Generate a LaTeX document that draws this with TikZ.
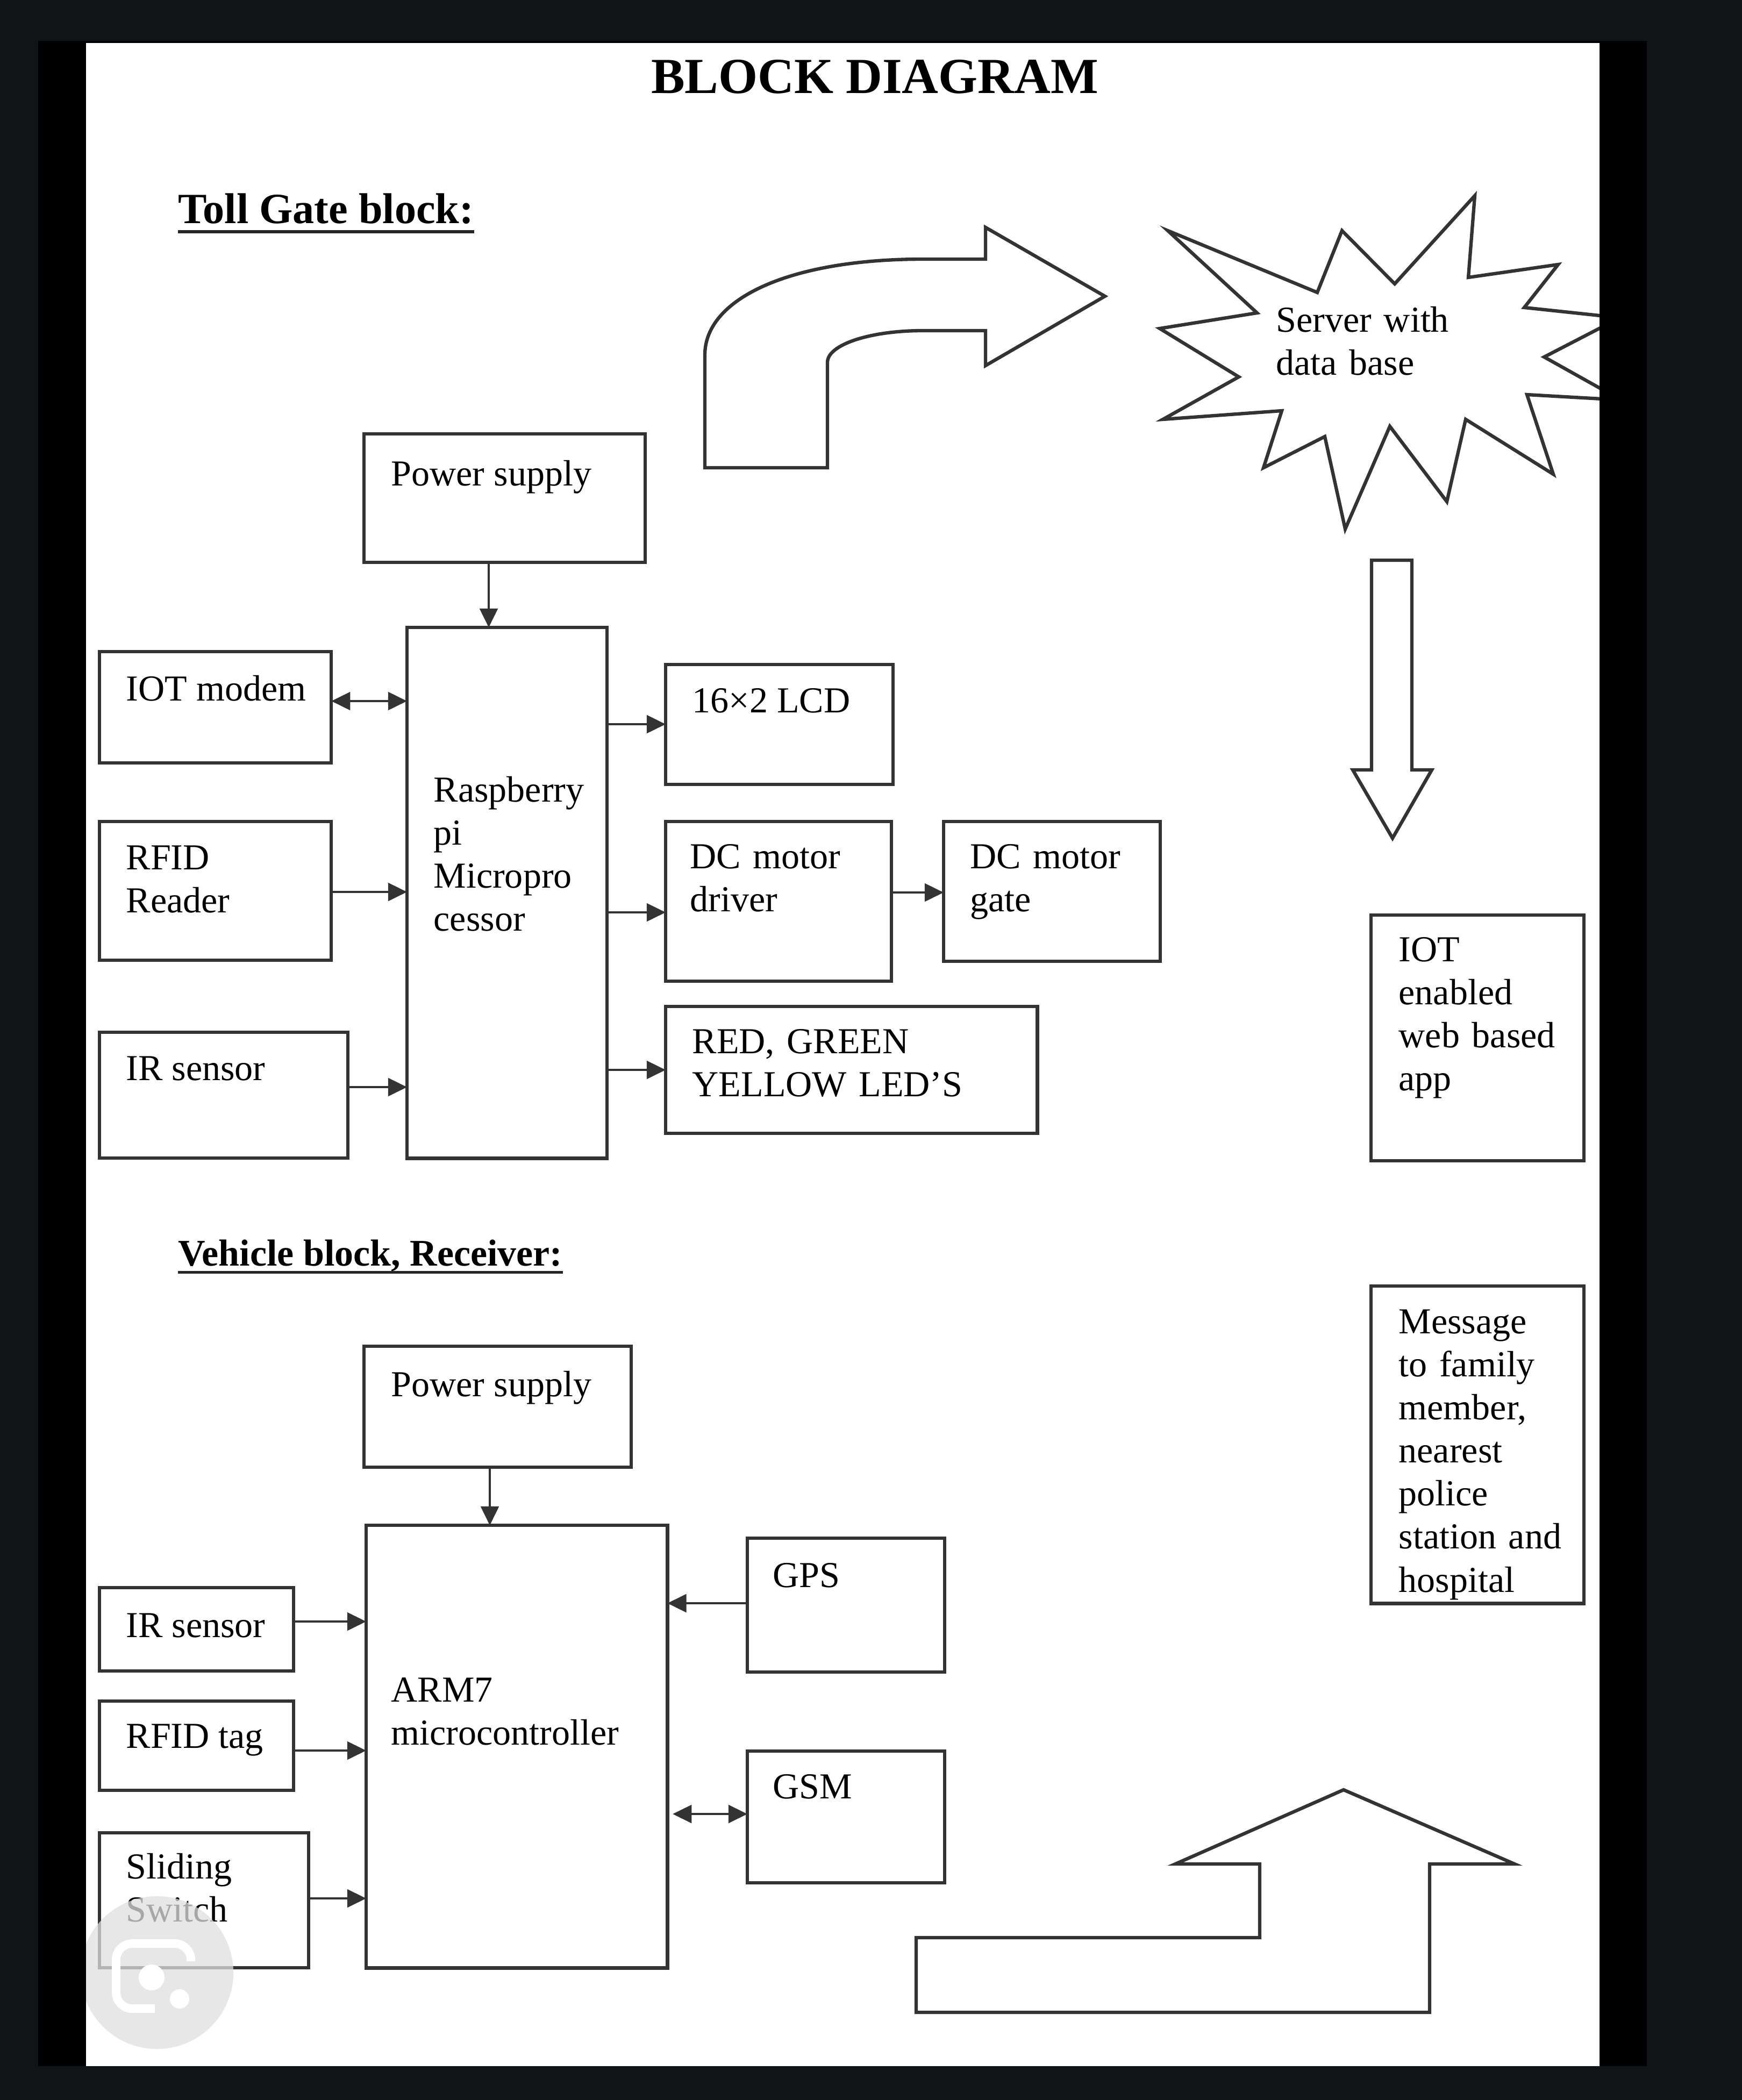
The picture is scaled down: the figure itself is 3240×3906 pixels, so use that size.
\documentclass[tikz,border=0pt]{standalone}
\usepackage{fontspec}
\setmainfont{Liberation Serif}
\usetikzlibrary{arrows.meta}
\definecolor{bgdark}{HTML}{111417}
\definecolor{ink}{HTML}{333333}
\newcommand{\bodyfont}{\fontsize{19.35}{22.8}\selectfont}
\begin{document}
\begin{tikzpicture}[x=0.01cm,y=-0.01cm,
  box/.style={draw=ink, line width=1.8pt, inner sep=0pt, outer sep=0pt, anchor=north west},
  lbl/.style={anchor=base west, inner sep=0pt, font=\bodyfont},
  lblm/.style={lbl, text width=6cm, align=left},
  con/.style={draw=ink, line width=1.2pt, -{Triangle[length=10pt,width=9.5pt]}},
  bicon/.style={draw=ink, line width=1.2pt, {Triangle[length=10pt,width=9.5pt]}-{Triangle[length=10pt,width=9.5pt]}},
  bigshape/.style={draw=ink, line width=1.8pt, line join=miter},
  head/.style={anchor=base west, inner sep=0pt},
  uline/.style={draw=black!85, line width=1.6pt}]
% page and margins
\useasboundingbox (0,0) rectangle (3240,3906);
\fill[bgdark] (0,0) rectangle (3240,3906);
\fill[black] (71,76) rectangle (3063,3843);
\fill[white] (160,80) rectangle (2975,3843);

% title and headings
\node[anchor=base, inner sep=0pt, font=\fontsize{26.7}{30}\selectfont\bfseries] (title) at (1627,173) {BLOCK DIAGRAM};
\node[head, font=\fontsize{22.8}{26}\selectfont\bfseries] (h1) at (331,415) {Toll Gate block:};
\draw[uline] ([yshift=-4.5pt]h1.base west) -- ([yshift=-4.5pt]h1.base east);
\node[head, font=\fontsize{19.9}{23}\selectfont\bfseries] (h2) at (331,2354) {Vehicle block, Receiver:};
\draw[uline] ([yshift=-3.5pt]h2.base west) -- ([yshift=-3.5pt]h2.base east);

% toll gate boxes
\node[box, minimum width=5.23cm, minimum height=2.39cm] (ps1) at (677,807) {};
\node[box, minimum width=3.72cm, minimum height=9.87cm] (rpi) at (757,1167) {};
\node[box, minimum width=4.31cm, minimum height=2.07cm] (iot) at (185,1212) {};
\node[box, minimum width=4.31cm, minimum height=2.58cm] (rfid) at (185,1528) {};
\node[box, minimum width=4.62cm, minimum height=2.34cm] (ir1) at (185,1920) {};
\node[box, minimum width=4.23cm, minimum height=2.23cm] (lcd) at (1238,1236) {};
\node[box, minimum width=4.20cm, minimum height=2.97cm] (dcd) at (1238,1528) {};
\node[box, minimum width=4.03cm, minimum height=2.60cm] (dcg) at (1755,1528) {};
\node[box, minimum width=6.91cm, minimum height=2.36cm] (led) at (1238,1872) {};
\node[box, minimum width=3.96cm, minimum height=4.57cm] (app) at (2550,1702) {};
\node[box, minimum width=3.96cm, minimum height=5.90cm] (msg) at (2550,2392) {};

% toll gate labels
\node[lbl] (tps1) at (727,903) {Power supply};
\node[lblm] (trpi) at (806,1491) {Raspberry\\pi\\Micropro\\cessor};
\node[lbl] (tiot) at (234,1303) {IOT modem};
\node[lblm] (trfid) at (234,1617) {RFID\\Reader};
\node[lbl] (tir1) at (234,2009) {IR sensor};
\node[lbl] (tlcd) at (1287,1325) {16×2 LCD};
\node[lblm] (tdcd) at (1283,1615) {DC motor\\driver};
\node[lblm] (tdcg) at (1804,1615) {DC motor\\gate};
\node[lblm] (tled) at (1287,1959) {RED, GREEN\\YELLOW LED’S};
\node[lblm] (tapp) at (2601,1788) {IOT\\enabled\\web based\\app};
\node[lblm] (tmsg) at (2601,2480) {Message\\to family\\member,\\nearest\\police\\station and\\hospital};

% toll gate connectors
\draw[con] (ps1.south -| 909,0) -- (rpi.north -| 909,0);
\draw[bicon] (iot.east |- 0,1304) -- (rpi.west |- 0,1304);
\draw[con] (rfid.east |- 0,1659) -- (rpi.west |- 0,1659);
\draw[con] (ir1.east |- 0,2022) -- (rpi.west |- 0,2022);
\draw[con] (rpi.east |- 0,1347) -- (lcd.west |- 0,1347);
\draw[con] (rpi.east |- 0,1697) -- (dcd.west |- 0,1697);
\draw[con] (dcd.east |- 0,1660) -- (dcg.west |- 0,1660);
\draw[con] (rpi.east |- 0,1990) -- (led.west |- 0,1990);

% vehicle boxes
\node[box, minimum width=4.97cm, minimum height=2.25cm] (ps2) at (677,2504) {};
\node[box, minimum width=5.60cm, minimum height=8.23cm] (arm) at (681,2837) {};
\node[box, minimum width=3.61cm, minimum height=1.55cm] (ir2) at (185,2953) {};
\node[box, minimum width=3.61cm, minimum height=1.66cm] (tag) at (185,3164) {};
\node[box, minimum width=3.89cm, minimum height=2.51cm] (sw) at (185,3409) {};
\node[box, minimum width=3.67cm, minimum height=2.49cm] (gps) at (1390,2861) {};
\node[box, minimum width=3.67cm, minimum height=2.45cm] (gsm) at (1390,3257) {};

% vehicle labels
\node[lbl] (tps2) at (727,2597) {Power supply};
\node[lblm] (tarm) at (727,3165) {ARM7\\microcontroller};
\node[lbl] (tir2) at (234,3045) {IR sensor};
\node[lbl] (ttag) at (234,3251) {RFID tag};
\node[lblm] (tsw) at (234,3494) {Sliding\\Switch};
\node[lbl] (tgps) at (1437,2952) {GPS};
\node[lbl] (tgsm) at (1437,3345) {GSM};

% vehicle connectors
\draw[con] (ps2.south -| 911,0) -- (arm.north -| 911,0);
\draw[con] (ir2.east |- 0,3016) -- (arm.west |- 0,3016);
\draw[con] (tag.east |- 0,3256) -- (arm.west |- 0,3256);
\draw[con] (sw.east |- 0,3531) -- (arm.west |- 0,3531);
\draw[con] (gps.west |- 0,2982) -- (arm.east |- 0,2982);
\coordinate (armgap) at ([xshift=2.8pt]arm.east);
\draw[bicon] (armgap |- 0,3374) -- (gsm.west |- 0,3374);

% big block arrows
\draw[bigshape] (1311,870) -- (1311,660) .. controls (1311,555) and (1470,482) .. (1716,482)
  -- (1833,482) -- (1833,423) -- (2055,551) -- (1833,680) -- (1833,615) -- (1716,615)
  .. controls (1618,615) and (1539,641) .. (1539,674) -- (1539,870) -- cycle;
\draw[bigshape] (2551,1042) -- (2626,1042) -- (2626,1432) -- (2663,1432) -- (2590,1559)
  -- (2516,1432) -- (2551,1432) -- cycle;
\draw[bigshape] (1704,3743) -- (1704,3604) -- (2343,3604) -- (2343,3467) -- (2186,3467)
  -- (2499,3329) -- (2817,3467) -- (2659,3467) -- (2659,3743) -- cycle;

% server star (clipped by page edge)
\begin{scope}
\clip (160,80) rectangle (2975,3843);
\draw[bigshape] (2172,429) -- (2450,544) -- (2496,429) -- (2594,528) -- (2743,364) -- (2731,516)
  -- (2898,492) -- (2835,572) -- (3013,591) -- (2872,664) -- (3015,744) -- (2840,734)
  -- (2889,882) -- (2726,780) -- (2691,933) -- (2585,793) -- (2502,984) -- (2464,812)
  -- (2350,870) -- (2384,764) -- (2163,780) -- (2304,701) -- (2157,611) -- (2338,582) -- cycle;
\end{scope}
\node[lblm] (server) at (2373,617) {Server with\\data base};

% watermark badge
\begin{scope}
\clip (160,80) rectangle (2975,3843);
\fill[gray!25, opacity=0.75] (292,3669) circle (1.42cm);
\draw[white, line width=4.5pt, rounded corners=0.3cm] (355,3648) -- (355,3615) -- (216,3615) -- (216,3736) -- (288,3736);
\fill[white] (282,3678) circle (0.24cm);
\fill[white] (334,3718) circle (0.18cm);
\end{scope}
\end{tikzpicture}
\end{document}
